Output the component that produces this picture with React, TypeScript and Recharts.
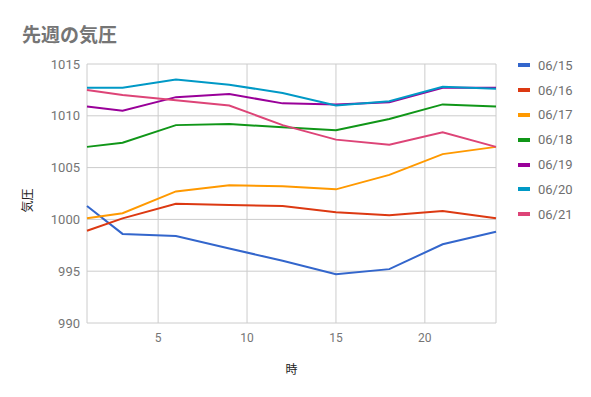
import React from 'react';
import {
	LineChart,
	Line,
	XAxis,
	YAxis,
	CartesianGrid,
} from 'recharts';

const hours = [1, 3, 6, 9, 12, 15, 18, 21, 24];

const d0615 = [1001.3, 998.6, 998.4, 997.2, 996.0, 994.7, 995.2, 997.6, 998.8];
const d0616 = [998.9, 1000.1, 1001.5, 1001.4, 1001.3, 1000.7, 1000.4, 1000.8, 1000.1];
const d0617 = [1000.1, 1000.6, 1002.7, 1003.3, 1003.2, 1002.9, 1004.3, 1006.3, 1007.0];
const d0618 = [1007.0, 1007.4, 1009.1, 1009.2, 1008.9, 1008.6, 1009.7, 1011.1, 1010.9];
const d0619 = [1010.9, 1010.5, 1011.8, 1012.1, 1011.2, 1011.1, 1011.3, 1012.7, 1012.7];
const d0620 = [1012.7, 1012.7, 1013.5, 1013.0, 1012.2, 1011.0, 1011.4, 1012.8, 1012.6];
const d0621 = [1012.5, 1012.0, 1011.5, 1011.0, 1009.1, 1007.7, 1007.2, 1008.4, 1007.0];

const seriesNames = ['06/15', '06/16', '06/17', '06/18', '06/19', '06/20', '06/21'];
const seriesValues = [d0615, d0616, d0617, d0618, d0619, d0620, d0621];
const colors = ['#3366cc', '#dc3912', '#ff9900', '#109618', '#990099', '#0099c6', '#dd4477'];

const xTicks = [5, 10, 15, 20];
const yTicks = [990, 995, 1000, 1005, 1010, 1015];

const data = hours.map((h, i) => {
	const row: any = { hour: h };
	seriesNames.forEach((name, s) => {
		row[name] = seriesValues[s][i];
	});
	return row;
});

const font = 'Roboto, "Noto Sans CJK JP", sans-serif';

const LegendList = () => (
	<div
		style={{
			position: 'absolute',
			left: 518,
			top: 53,
			fontFamily: font,
			fontSize: 13,
			color: '#6f6f6f',
		}}
	>
		{seriesNames.map((name, i) => (
			<div key={name} style={{ display: 'flex', alignItems: 'center', height: 24.8 }}>
				<div style={{ width: 12, height: 4, background: colors[i], marginRight: 8 }} />
				<span>{name}</span>
			</div>
		))}
	</div>
);

const App: React.FC = () => {
	return (
		<div style={{ position: 'absolute', left: 0, top: 0, width: 591, height: 397, background: '#fff' }}>
			<div
				style={{
					position: 'absolute',
					left: 22,
					top: 20,
					fontFamily: font,
					fontSize: 19,
					fontWeight: 'bold',
					color: '#757575',
				}}
			>
				先週の気圧
			</div>
			<LineChart
				width={591}
				height={397}
				data={data}
				margin={{ top: 64, right: 95, bottom: 0, left: 0 }}
			>
				<CartesianGrid stroke="#cccccc" strokeWidth={1} />
				<XAxis
					dataKey="hour"
					type="number"
					domain={[1, 24]}
					ticks={xTicks}
					axisLine={false}
					tickLine={false}
					tickSize={0}
					tickMargin={10}
					height={74}
					tick={{ fill: '#757575', fontSize: 12, fontFamily: font }}
					label={(props: any) => {
						const vb = props.viewBox;
						return (
							<text
								x={vb.x + vb.width / 2}
								y={vb.y + 51}
								textAnchor="middle"
								fill="#222"
								fontSize={12}
								fontFamily={font}
							>
								時
							</text>
						);
					}}
				/>
				<YAxis
					type="number"
					domain={[990, 1015]}
					ticks={yTicks}
					axisLine={false}
					tickLine={false}
					tickSize={0}
					tickMargin={7}
					width={87}
					tick={{ fill: '#757575', fontSize: 13, fontFamily: font }}
					label={(props: any) => {
						const vb = props.viewBox;
						const cx = 32;
						const cy = vb.y + vb.height / 2 + 7;
						return (
							<text
								x={cx}
								y={cy}
								textAnchor="middle"
								transform={`rotate(-90, ${cx}, ${cy})`}
								fill="#222"
								fontSize={12}
								fontFamily={font}
							>
								気圧
							</text>
						);
					}}
				/>
				{seriesNames.map((name, i) => (
					<Line
						key={name}
						type="linear"
						dataKey={name}
						stroke={colors[i]}
						strokeWidth={2}
						dot={false}
						activeDot={false}
						isAnimationActive={false}
					/>
				))}
			</LineChart>
			<LegendList />
		</div>
	);
};

export default App;
